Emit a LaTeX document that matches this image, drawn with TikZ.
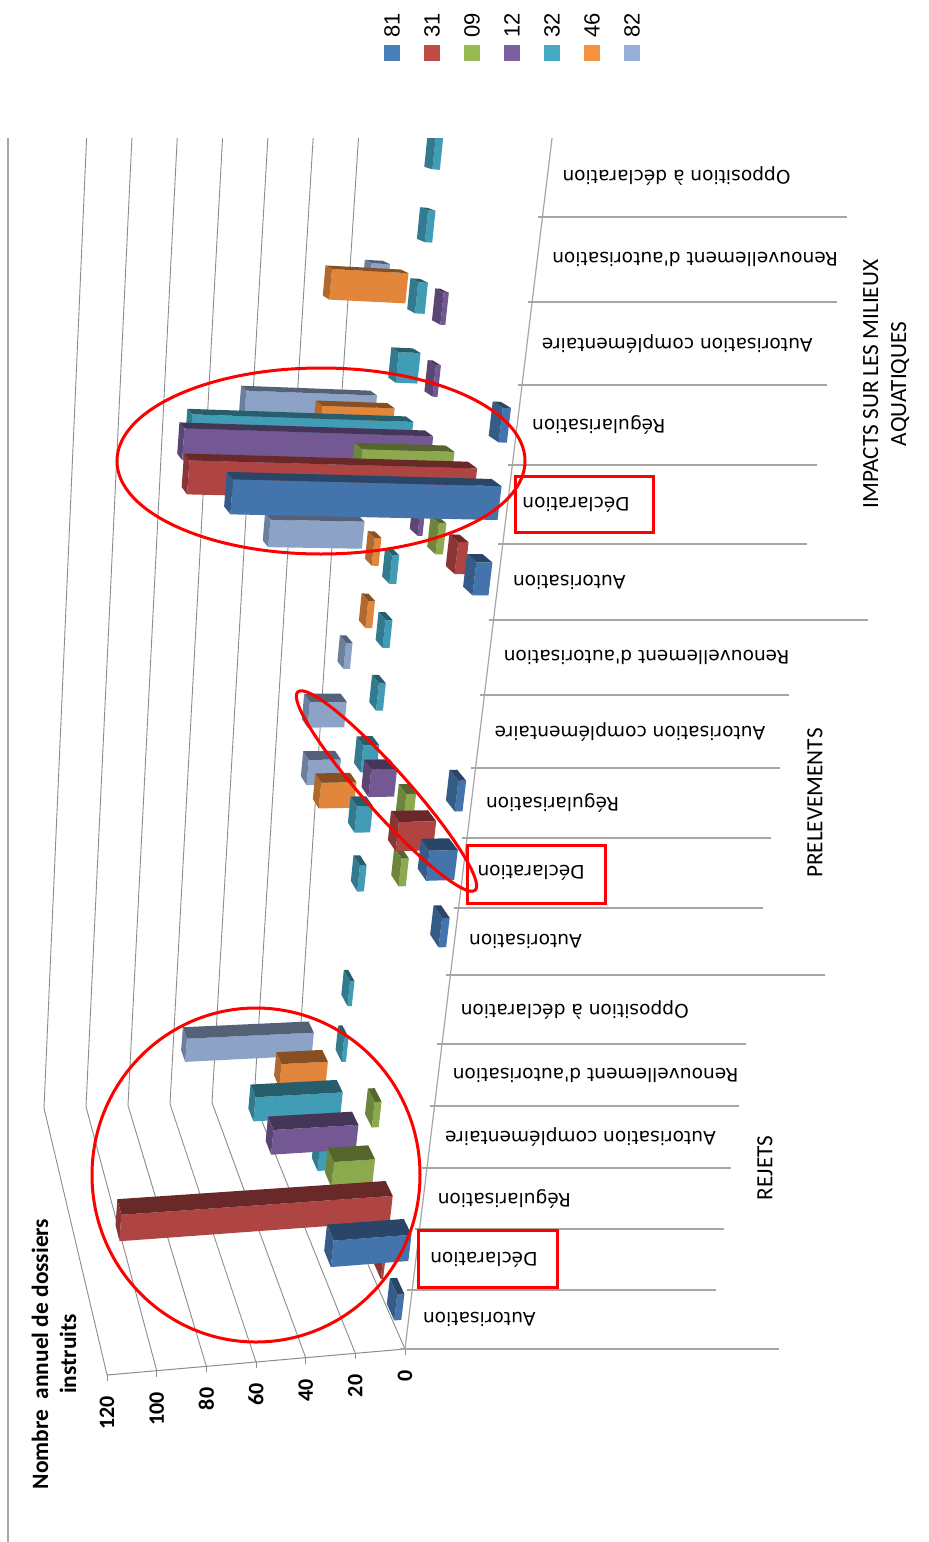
\documentclass[tikz,border=0pt]{standalone}
\usepackage{fontspec}
\usepackage{tikz}
\newfontfamily\catfont{DejaVu Sans}
\newfontfamily\calfont{Carlito}
\newfontfamily\legfont{Liberation Sans}
\definecolor{c81}{HTML}{4A7EBB}
\definecolor{c31}{HTML}{BE4B48}
\definecolor{c09}{HTML}{98B954}
\definecolor{c12}{HTML}{7D60A0}
\definecolor{c32}{HTML}{46AAC5}
\definecolor{c46}{HTML}{F69240}
\definecolor{c82}{HTML}{98B0D8}
\definecolor{gridgray}{HTML}{8C8C8C}
\definecolor{sepgray}{HTML}{A6A6A6}
\tikzstyle{catlabel}=[font=\catfont\fontsize{9.3}{11}\selectfont,rotate=180,anchor=east,inner sep=0pt]
\tikzstyle{grouplabel}=[font=\calfont\fontsize{11.6}{14}\selectfont,rotate=90,align=center,inner sep=0pt]
\tikzstyle{ticklabel}=[font=\calfont\bfseries\fontsize{11}{13}\selectfont,rotate=90,anchor=east,inner sep=0pt]
\tikzstyle{legendlabel}=[font=\legfont\fontsize{11}{13}\selectfont,rotate=90,anchor=west,inner sep=0pt]
\tikzstyle{legendbox}=[minimum size=8pt,inner sep=0pt]
\tikzstyle{redmark}=[draw=red,line width=1.5pt]
% projection of (value, category, depth) to the page
\newcommand{\pj}[3]{%
  \pgfmathsetmacro\pjd{1-0.0003147*(#1)-0.0107*(#2)+0.0317*(#3)}%
  \pgfmathsetmacro\pjx{(405-2.5176*(#1)+2.75*(#2)-6.18*(#3))/\pjd}%
  \pgfmathsetmacro\pjy{(1349-0.2165*(#1)-72.65*(#2)-0.666*(#3))/\pjd}%
}
\newcommand{\cbar}[4]{%
  \pgfmathsetmacro\bylo{#2+0.28}\pgfmathsetmacro\byhi{#2+0.72}%
  \pgfmathsetmacro\bzf{#3+0.3}\pgfmathsetmacro\bzb{#3+0.7}%
  \pj{0}{\bylo}{\bzf}\coordinate (a) at (\pjx,\pjy);
  \pj{#4}{\bylo}{\bzf}\coordinate (b) at (\pjx,\pjy);
  \pj{#4}{\byhi}{\bzf}\coordinate (c) at (\pjx,\pjy);
  \pj{0}{\byhi}{\bzf}\coordinate (d) at (\pjx,\pjy);
  \pj{0}{\byhi}{\bzb}\coordinate (e) at (\pjx,\pjy);
  \pj{#4}{\byhi}{\bzb}\coordinate (f) at (\pjx,\pjy);
  \pj{#4}{\bylo}{\bzb}\coordinate (g) at (\pjx,\pjy);
  \fill[#1!92!black] (a)--(b)--(c)--(d)--cycle;
  \fill[#1!55!black] (d)--(c)--(f)--(e)--cycle;
  \fill[#1!72!black] (b)--(c)--(f)--(g)--cycle;
}

\begin{document}
\begin{tikzpicture}[x=0.5pt,y=-0.5pt]
	\useasboundingbox[fill=white] (0,0) rectangle (928,1542);
	
	\begin{scope}
	\clip (0,138) rectangle (928,1542);
	\draw[sepgray,line width=0.6pt] (8,138) -- (8,1542);
	\foreach \v in {0,20,...,120} {
		\draw[gridgray,line width=0.45pt] (405-2.483*\v,1349+0.2167*\v) -- (296-2.1*\v,1100+0.0667*\v) -- (359-2.267*\v,130);
		\draw[gridgray,line width=0.45pt] (405-2.483*\v,1349+0.2167*\v) -- (405-2.483*\v,1355+0.2167*\v);
	}
	\draw[gridgray,line width=0.5pt] (405,1349) -- (107,1375);
	\draw[sepgray,line width=0.6pt] (405,1349) -- (553,130);
	\foreach \y/\len in {1349/374,1290/304,1229/304,1168/304,1106/304,1044/304,975/374,908/304,838/304,768/304,695/304,620/374,544/304,465/304,385/304,302/304,217/304} {
		\pgfmathsetmacro\ax{405+0.122*(1349-\y)}
		\draw[sepgray,line width=0.7pt] (\ax-5,\y) -- (\ax+\len,\y);
	}
	
	\foreach \col/\s/\c/\v in {c82/6/1/61,c82/6/6/15,c82/6/7/17,c82/6/8/3,c82/6/10/42,c82/6/12/57,c82/6/14/8,
		c46/5/1/22,c46/5/6/16,c46/5/9/3,c46/5/10/3,c46/5/12/31,c46/5/14/32,
		c32/4/0/8,c32/4/1/40,c32/4/2/2,c32/4/3/2,c32/4/5/3,c32/4/6/7,c32/4/7/7,c32/4/8/3,c32/4/9/3,c32/4/10/3,c32/4/12/90,c32/4/13/9,c32/4/14/4,c32/4/15/3,c32/4/16/3,
		c12/3/1/38,c12/3/7/11,c12/3/11/2,c12/3/12/98,c12/3/13/2,c12/3/14/2,
		c09/2/1/18,c09/2/2/3,c09/2/6/3,c09/2/7/4,c09/2/11/3,c09/2/12/36,
		c31/1/0/1,c31/1/1/112,c31/1/7/15,c31/1/11/4,c31/1/12/106,
		c81/0/0/3,c81/0/1/32,c81/0/6/3,c81/0/7/11,c81/0/8/3,c81/0/11/6,c81/0/12/96,c81/0/13/3} {
		\cbar{\col}{\c}{\s}{\v}
	}
	\end{scope}
	
	\foreach \n/\y/\t in {0/1319.5/Autorisation,1/1259.5/Déclaration,2/1198.5/Régularisation,3/1137/Autorisation complémentaire,4/1075/Renouvellement d'autorisation,5/1009.5/Opposition à déclaration,
		6/941.5/Autorisation,7/873/Déclaration,8/803/Régularisation,9/731.5/Autorisation complémentaire,10/657.5/Renouvellement d'autorisation,
		11/582/Autorisation,12/504.5/Déclaration,13/425/Régularisation,14/343.5/Autorisation complémentaire,15/259.5/Renouvellement d'autorisation,16/176/Opposition à déclaration} {
		\pgfmathsetmacro\lx{405+0.122*(1349-\y)+14}
		\node[catlabel] (lab\n) at (\lx,\y) {\t};
	}
	\foreach \v in {0,20,...,120} {
		\node[ticklabel] (tick\v) at (405-2.483*\v,1370+0.2167*\v) {\v};
	}
	\node[grouplabel,font=\calfont\bfseries\fontsize{11.7}{14}\selectfont] (title) at (54,1354) {Nombre\ \ annuel de dossiers\\instruits};
	\node[grouplabel] (rejets) at (765,1168) {REJETS};
	\node[grouplabel] (prel) at (815,803) {PRELEVEMENTS};
	\node[grouplabel] (impacts) at (886,384) {IMPACTS SUR LES MILIEUX\\AQUATIQUES};
	
	\foreach \i/\d in {0/81,1/31,2/09,3/12,4/32,5/46,6/82} {
		\node[legendbox,fill=c\d] (box\d) at (392+40*\i,53) {};
		\node[legendlabel] (leg\d) at (392+40*\i,38) {\d};
	}
	
	\draw[redmark] (256,1175) ellipse [x radius=164,y radius=167];
	\draw[redmark] (321,461) ellipse [x radius=204,y radius=93];
	\draw[redmark,rotate around={-48.2:(386.5,791)}] (386.5,791) ellipse [x radius=133,y radius=22];
	\draw[redmark] (418,1230) rectangle (557,1287);
	\draw[redmark] (467,845) rectangle (605,903);
	\draw[redmark] (515,476) rectangle (653,532);
\end{tikzpicture}
\end{document}
